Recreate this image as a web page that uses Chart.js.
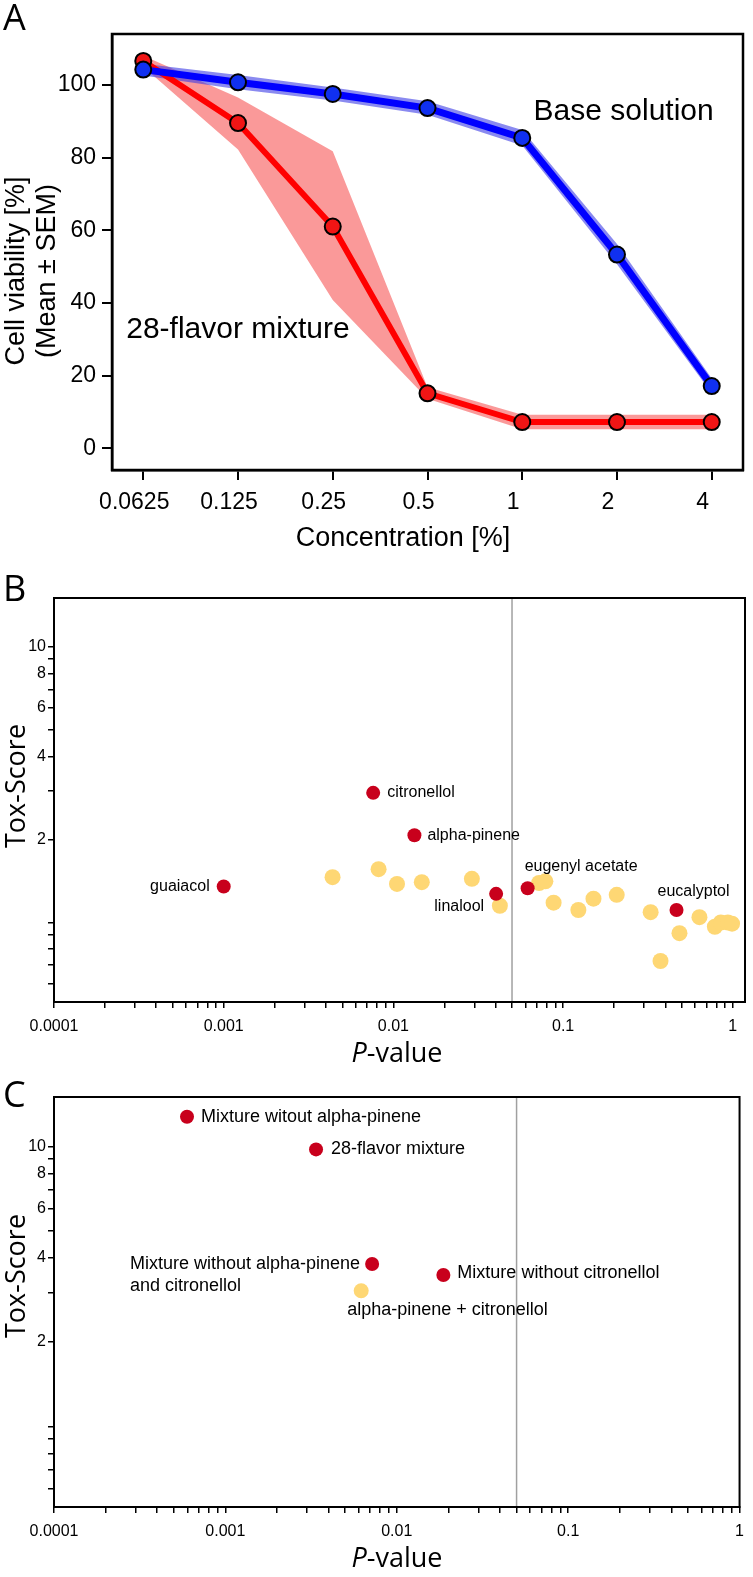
<!DOCTYPE html>
<html>
<head>
<meta charset="utf-8">
<script src="https://cdn.jsdelivr.net/npm/chart.js@4.4.1/dist/chart.umd.min.js"></script>
<style>
  body { margin: 0; background: #fff; width: 753px; height: 1577px; position: relative; overflow: hidden; }
  canvas { position: absolute; left: 0; }
</style>
</head>
<body>
<canvas id="chartA" width="753" height="560" style="top:0px"></canvas>
<canvas id="chartB" width="753" height="510" style="top:560px"></canvas>
<canvas id="chartC" width="753" height="507" style="top:1070px"></canvas>
<script>
// ---- panel A: dose response ----
const concLabels = ['0.0625', '0.125', '0.25', '0.5', '1', '2', '4'];
const mixMean  = [106.6, 89.5, 61.0, 15.1, 7.2, 7.2, 7.2];
const mixUpper = [108.0, 96.5, 81.7, 16.8, 9.2, 9.2, 9.2];
const mixLower = [105.0, 82.2, 40.8, 13.6, 5.2, 5.2, 5.2];
const baseMean  = [104.2, 100.7, 97.5, 93.6, 85.4, 53.3, 17.1];
const baseUpper = [105.8, 102.7, 99.3, 95.5, 87.6, 56.2, 19.2];
const baseLower = [102.6, 98.8, 95.7, 91.8, 83.3, 50.6, 15.1];
const viabilityTicks = [0, 20, 40, 60, 80, 100];

// ---- panel B: single flavors ----
const flavorNames = ['guaiacol', 'citronellol', 'alpha-pinene', 'linalool', 'eugenyl acetate', 'eucalyptol'];
const flavorP   = [0.001, 0.0076, 0.0133, 0.0403, 0.0618, 0.466];
const flavorTox = [1.35, 2.95, 2.07, 1.27, 1.33, 1.11];
const otherP   = [0.00438, 0.00818, 0.0105, 0.0147, 0.029, 0.0424, 0.0722, 0.0786, 0.0879, 0.123, 0.151, 0.207, 0.328, 0.375, 0.485, 0.636, 0.784, 0.85, 0.935, 0.99];
const otherTox = [1.46, 1.56, 1.38, 1.40, 1.44, 1.15, 1.39, 1.41, 1.18, 1.11, 1.22, 1.26, 1.09, 0.725, 0.915, 1.045, 0.965, 1.0, 1.0, 0.99];

// ---- panel C: mixtures ----
const mixNames = ['Mixture witout alpha-pinene', '28-flavor mixture', 'Mixture without alpha-pinene\nand citronellol', 'Mixture without citronellol'];
const mixP   = [0.000597, 0.00338, 0.00718, 0.0187];
const mixTox = [12.75, 9.75, 3.8, 3.47];
const comboNames = ['alpha-pinene + citronellol'];
const comboP   = [0.0062];
const comboTox = [3.05];

const pCut = 0.05;
const pMajor = [0.0001, 0.001, 0.01, 0.1, 1];
const pMajorLabels = ['0.0001', '0.001', '0.01', '0.1', '1'];
const toxTickLabels = [2, 4, 6, 8, 10];
const toxMin = 0.515, toxMax = 15;

Chart.defaults.font.family = '"Liberation Sans", Arial, sans-serif';
Chart.defaults.color = '#000';

const RED = '#C8001C', YELLOW = '#FED774', GREY = '#A0A0A0';
const titleFont = '27px "Open Sans", "Liberation Sans", sans-serif';
const letterFont = '36px "Open Sans", "Liberation Sans", sans-serif';

// frame, point labels and titles
const deco = {
  id: 'deco',
  afterDraw(chart, args, o) {
    const ctx = chart.ctx, a = chart.chartArea;
    ctx.save();
    ctx.strokeStyle = '#000';
    ctx.lineWidth = o.frame;
    ctx.strokeRect(a.left, a.top, a.right - a.left, a.bottom - a.top);
    ctx.fillStyle = '#000';
    ctx.textBaseline = 'middle';
    ctx.textAlign = 'left';
    (o.labels || []).forEach(l => {
      const pt = chart.getDatasetMeta(l.ds).data[l.i];
      ctx.font = o.labelFont;
      const lines = l.text.split('\n');
      const w = ctx.measureText(lines[0]).width;
      const x = l.right ? pt.x + l.dx - w : pt.x + l.dx;
      lines.forEach((t, k) => ctx.fillText(t, x, pt.y + l.dy + k * o.lineGap));
    });
    (o.notes || []).forEach(n => {
      ctx.font = n.font;
      ctx.fillText(n.text, chart.scales.x.getPixelForValue(n.x), chart.scales.y.getPixelForValue(n.y));
    });
    (o.titles || []).forEach(t => {
      ctx.save();
      ctx.translate(t.x, t.y);
      if (t.rot) ctx.rotate(-Math.PI / 2);
      const lines = t.lines || [t.parts];
      lines.forEach((parts, k) => {
        let total = 0;
        parts.forEach(p => { ctx.font = p[1]; total += ctx.measureText(p[0]).width; });
        let x = t.left ? 0 : -total / 2;
        parts.forEach(p => {
          ctx.font = p[1];
          ctx.fillText(p[0], x, k * (t.gap || 0));
          x += ctx.measureText(p[0]).width;
        });
      });
      ctx.restore();
    });
    ctx.restore();
  }
};

function fixSize(prop, v) { return s => { s[prop] = v; }; }

function pLabel(v) {
  const k = pMajor.findIndex(m => Math.abs(m - v) / m < 1e-6);
  return k >= 0 ? pMajorLabels[k] : '';
}

function pTicks(maxP) {
  const out = [];
  for (let e = -4; e < 0; e++) {
    for (let m = 1; m < 10; m++) out.push(m * Math.pow(10, e));
  }
  out.push(1);
  return out.filter(v => v <= maxP).map(v => ({ value: v }));
}

function toxTicks() {
  const vals = [0.6, 0.7, 0.8, 0.9, 1, 2, 3, 4, 5, 6, 7, 8, 9, 10];
  return vals.map(v => ({ value: v }));
}

const tickGrid = { drawOnChartArea: false, drawTicks: true, color: '#000', lineWidth: 1.5, tickLength: 6 };

// ---------- A ----------
const idx = concLabels.map((c, i) => i);
const pts = arr => arr.map((v, i) => ({ x: idx[i], y: v }));

new Chart(document.getElementById('chartA'), {
  type: 'line',
  data: {
    datasets: [
      { data: pts(baseMean), borderColor: '#0000FF', borderWidth: 7, pointRadius: 8, pointBackgroundColor: '#1030F0',
        pointBorderColor: '#000', pointBorderWidth: 2, fill: false, tension: 0 },
      { data: pts(mixMean), borderColor: '#FF0000', borderWidth: 6, pointRadius: 8, pointBackgroundColor: '#F01515',
        pointBorderColor: '#000', pointBorderWidth: 2, fill: false, tension: 0 },
      { data: pts(baseUpper), borderWidth: 0, pointRadius: 0, fill: '+1', backgroundColor: 'rgba(60,60,230,0.6)' },
      { data: pts(baseLower), borderWidth: 0, pointRadius: 0, fill: false },
      { data: pts(mixUpper), borderWidth: 0, pointRadius: 0, fill: '+1', backgroundColor: 'rgba(245,70,70,0.55)' },
      { data: pts(mixLower), borderWidth: 0, pointRadius: 0, fill: false }
    ]
  },
  options: {
    responsive: false, animation: false, events: [],
    layout: { padding: { left: 0, top: 34, right: 2, bottom: 0 } },
    plugins: {
      legend: { display: false }, tooltip: { enabled: false },
      deco: {
        frame: 2.5,
        notes: [
          { text: 'Base solution', x: 4.12, y: 92.5, font: '30px "Liberation Sans", Arial, sans-serif' },
          { text: '28-flavor mixture', x: -0.18, y: 32.5, font: '30px "Liberation Sans", Arial, sans-serif' }
        ],
        titles: [
          { lines: [[['Cell viability [%]', '27px "Liberation Sans", Arial, sans-serif']],
                    [['(Mean \u00B1 SEM)', '27px "Liberation Sans", Arial, sans-serif']]],
            x: 17, y: 271, rot: true, gap: 31 },
          { parts: [['Concentration [%]', '27px "Liberation Sans", Arial, sans-serif']], x: 403, y: 539 },
          { parts: [['A', letterFont]], x: 3, y: 20, left: true }
        ]
      }
    },
    scales: {
      x: {
        type: 'linear', min: -0.33, max: 6.33,
        afterFit: fixSize('height', 90),
        afterBuildTicks: s => { s.ticks = idx.map(v => ({ value: v })); },
        ticks: { callback: v => concLabels[v], font: { size: 23 }, padding: 9, labelOffset: -9, maxRotation: 0, autoSkip: false },
        grid: { drawOnChartArea: false, drawTicks: true, color: '#000', lineWidth: 2, tickLength: 10 },
        border: { display: true, color: '#000', width: 2.5 }
      },
      y: {
        type: 'linear', min: -6, max: 114,
        afterFit: fixSize('width', 112),
        afterBuildTicks: s => { s.ticks = viabilityTicks.map(v => ({ value: v })); },
        ticks: { font: { size: 23 }, padding: 6 },
        grid: { drawOnChartArea: false, drawTicks: true, color: '#000', lineWidth: 2, tickLength: 10 },
        border: { display: true, color: '#000', width: 2.5 }
      }
    }
  },
  plugins: [deco]
});

// ---------- B and C ----------
function scatterPanel(id, cfg) {
  const datasets = [
    { data: cfg.redP.map((p, i) => ({ x: p, y: cfg.redTox[i] })), backgroundColor: RED, borderWidth: 0, pointRadius: cfg.redR },
    { data: cfg.yelP.map((p, i) => ({ x: p, y: cfg.yelTox[i] })), backgroundColor: YELLOW, borderWidth: 0, pointRadius: cfg.yelR },
    { data: [{ x: pCut, y: toxMin }, { x: pCut, y: toxMax }], showLine: true, borderColor: GREY, borderWidth: 1.5, pointRadius: 0 }
  ];
  new Chart(document.getElementById(id), {
    type: 'scatter',
    data: { datasets },
    options: {
      responsive: false, animation: false, events: [],
      layout: { padding: { left: 0, top: cfg.top, right: cfg.right, bottom: 0 } },
      plugins: {
        legend: { display: false }, tooltip: { enabled: false },
        deco: {
          frame: 2, labelFont: cfg.labelFont, lineGap: cfg.lineGap, labels: cfg.labels,
          titles: [
            { parts: [['Tox-Score', titleFont]], x: 17, y: cfg.midY, rot: true },
            { parts: [['P', 'italic ' + titleFont], ['-value', titleFont]], x: 397, y: cfg.pY },
            { parts: [[cfg.letter, letterFont]], x: 3, y: cfg.letterY, left: true }
          ]
        }
      },
      scales: {
        x: {
          type: 'logarithmic', min: 0.0001, max: cfg.maxP,
          afterFit: fixSize('height', cfg.xh),
          afterBuildTicks: s => { s.ticks = pTicks(cfg.maxP); },
          ticks: { callback: pLabel, font: { size: 16 }, padding: 9, maxRotation: 0, autoSkip: false },
          grid: tickGrid,
          border: { display: true, color: '#000', width: 2 }
        },
        y: {
          type: 'logarithmic', min: toxMin, max: toxMax,
          afterFit: fixSize('width', 54),
          afterBuildTicks: s => { s.ticks = toxTicks(); },
          ticks: { callback: v => toxTickLabels.includes(v) ? String(v) : '', font: { size: 16 }, padding: 2, autoSkip: false },
          grid: tickGrid,
          border: { display: true, color: '#000', width: 2 }
        }
      }
    },
    plugins: [deco]
  });
}

scatterPanel('chartB', {
  redP: flavorP, redTox: flavorTox, yelP: otherP, yelTox: otherTox, redR: 7, yelR: 8,
  maxP: 1.18, top: 38, right: 8, xh: 68, midY: 226, pY: 494, letter: 'B', letterY: 31,
  labelFont: '16px "Liberation Sans", Arial, sans-serif', lineGap: 20,
  labels: [
    { ds: 0, i: 0, text: flavorNames[0], dx: -14, dy: 0, right: true },
    { ds: 0, i: 1, text: flavorNames[1], dx: 14, dy: 0 },
    { ds: 0, i: 2, text: flavorNames[2], dx: 13, dy: 0 },
    { ds: 0, i: 3, text: flavorNames[3], dx: -12, dy: 13, right: true },
    { ds: 0, i: 4, text: flavorNames[4], dx: -3, dy: -22 },
    { ds: 0, i: 5, text: flavorNames[5], dx: -19, dy: -18 }
  ]
});

scatterPanel('chartC', {
  redP: mixP, redTox: mixTox, yelP: comboP, yelTox: comboTox, redR: 7, yelR: 7.5,
  maxP: 1, top: 27, right: 5, xh: 70, midY: 206, pY: 489, letter: 'C', letterY: 27,
  labelFont: '18px "Liberation Sans", Arial, sans-serif', lineGap: 22,
  labels: [
    { ds: 0, i: 0, text: mixNames[0], dx: 14, dy: 0 },
    { ds: 0, i: 1, text: mixNames[1], dx: 15, dy: 0 },
    { ds: 0, i: 2, text: mixNames[2], dx: -12, dy: 0, right: true },
    { ds: 0, i: 3, text: mixNames[3], dx: 14, dy: -2 },
    { ds: 1, i: 0, text: comboNames[0], dx: -14, dy: 19 }
  ]
});
</script>
</body>
</html>
